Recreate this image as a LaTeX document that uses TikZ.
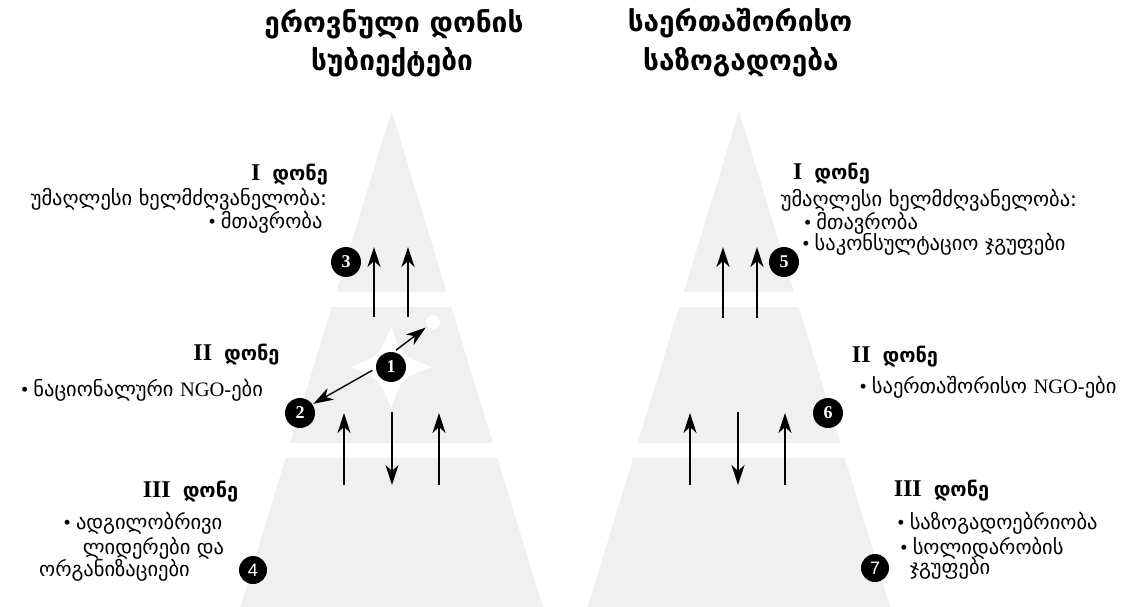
\documentclass[tikz,border=0pt]{standalone}
\usepackage{fontspec}
\usetikzlibrary{arrows.meta}

\setmainfont{Liberation Serif}
\newfontfamily\geo{DejaVu Sans}
\newfontfamily\numsans{Liberation Sans}
\definecolor{pyrgray}{HTML}{F0F0F0}

\tikzset{
  title/.style={font=\geo\bfseries\fontsize{28}{32}\selectfont, inner sep=0pt},
  level/.style={font=\bfseries\fontsize{24}{26}\selectfont, inner sep=0pt},
  item/.style={font=\geo\fontsize{20.5}{24}\selectfont, inner sep=0pt},
  num/.style={circle, fill=black, text=white, minimum size=30pt, inner sep=0pt,
    font=\bfseries\fontsize{18}{18}\selectfont},
  numsans/.style={num, minimum size=28pt, font=\numsans\fontsize{18}{18}\selectfont},
  arr/.style={-{Stealth[length=20pt,width=13pt,inset=6pt]}, line width=1.4pt},
}

% bold roman numeral followed by the Georgian word for "level"
\newcommand{\lvl}[1]{#1\hspace{12pt}{\geo\fontsize{20}{22}\selectfont დონე}}

% one grey pyramid in three bands, centred at x = #1
\newcommand{\pyramid}[1]{%
  \foreach \ya/\yb in {111/292, 307/443, 458/607}
    \fill[pyrgray] ({#1-0.305*(\ya-111)},\ya) -- ({#1+0.305*(\ya-111)},\ya)
      -- ({#1+0.305*(\yb-111)},\yb) -- ({#1-0.305*(\yb-111)},\yb) -- cycle;
}

\begin{document}
\begin{tikzpicture}[x=1pt,y=-1pt]
  \useasboundingbox (0,0) rectangle (1134,607);

  \pyramid{391.5}
  \pyramid{739}

  % star and dot in the middle band
  \fill[white] (350,367) .. controls (379,356) .. (391,327)
    .. controls (402,356) .. (432,367) .. controls (402,378) .. (391,408)
    .. controls (379,378) .. (350,367) -- cycle;
  \node[circle, fill=white, minimum size=14pt, inner sep=0pt] (dot) at (433,322) {};

  % headings
  \node[title] (titleLa) at (394,24) {ეროვნული დონის};
  \node[title] (titleLb) at (392,62) {სუბიექტები};
  \node[title] (titleRa) at (740,23) {საერთაშორისო};
  \node[title] (titleRb) at (741,62) {საზოგადოება};

  % left column
  \node[level] (lvlIL) at (289.5,175) {\lvl{I}};
  \node[item] (headL) at (179,199) {უმაღლესი ხელმძღვანელობა:};
  \node[item] (govL) at (265.5,222) {\rmfamily•\ \geo მთავრობა};
  \node[level] (lvlIIL) at (236.5,355) {\lvl{II}};
  \node[item] (ngoL) at (142,390) {\rmfamily•\ \geo ნაციონალური \rmfamily NGO-\geo ები};
  \node[level] (lvlIIIL) at (190.5,492) {\lvl{III}};
  \node[item] (locLa) at (143,523) {\rmfamily•\ \geo ადგილობრივი};
  \node[item] (locLb) at (153.5,548) {ლიდერები და};
  \node[item] (locLc) at (114.5,570) {ორგანიზაციები};

  % right column
  \node[level] (lvlIR) at (831.5,174) {\lvl{I}};
  \node[item] (headR) at (929,200) {უმაღლესი ხელმძღვანელობა:};
  \node[item] (govR) at (861,223) {\rmfamily•\ \geo მთავრობა};
  \node[item] (advR) at (934,244) {\rmfamily•\ \geo საკონსულტაციო ჯგუფები};
  \node[level] (lvlIIR) at (895,357) {\lvl{II}};
  \node[item] (ngoR) at (988,387) {\rmfamily•\ \geo საერთაშორისო \rmfamily NGO-\geo ები};
  \node[level] (lvlIIIR) at (941.5,491) {\lvl{III}};
  \node[item] (pubR) at (997.5,523) {\rmfamily•\ \geo საზოგადოებრიობა};
  \node[item] (solRa) at (982,548) {\rmfamily•\ \geo სოლიდარობის};
  \node[item] (solRb) at (950,568) {ჯგუფები};

  % numbered markers
  \node[num] (n1) at (391,367) {1};
  \node[num] (n2) at (300,413) {2};
  \node[num] (n3) at (346,262) {3};
  \node[numsans] (n4) at (253,570) {4};
  \node[num] (n5) at (784,262) {5};
  \node[num] (n6) at (828,413) {6};
  \node[numsans] (n7) at (875,568) {7};

  \draw[arr, shorten <=3pt, shorten >=2pt] (n1.80) -- (dot);
  \draw[arr, shorten <=4pt, shorten >=1pt] (n1.185) -- (n2.35);

  % vertical flows between the bands
  \foreach \x/\ya/\yb [count=\i] in {374/317/247, 408/317/247, 723/318/247, 757/318/247,
      344/485/413, 439/485/413, 690/485/413, 785/485/413,
      392/412/485, 738/412/485} {
    \coordinate (from\i) at (\x,\ya);
    \coordinate (to\i) at (\x,\yb);
    \draw[arr] (from\i) -- (to\i);
  }

\end{tikzpicture}
\end{document}
